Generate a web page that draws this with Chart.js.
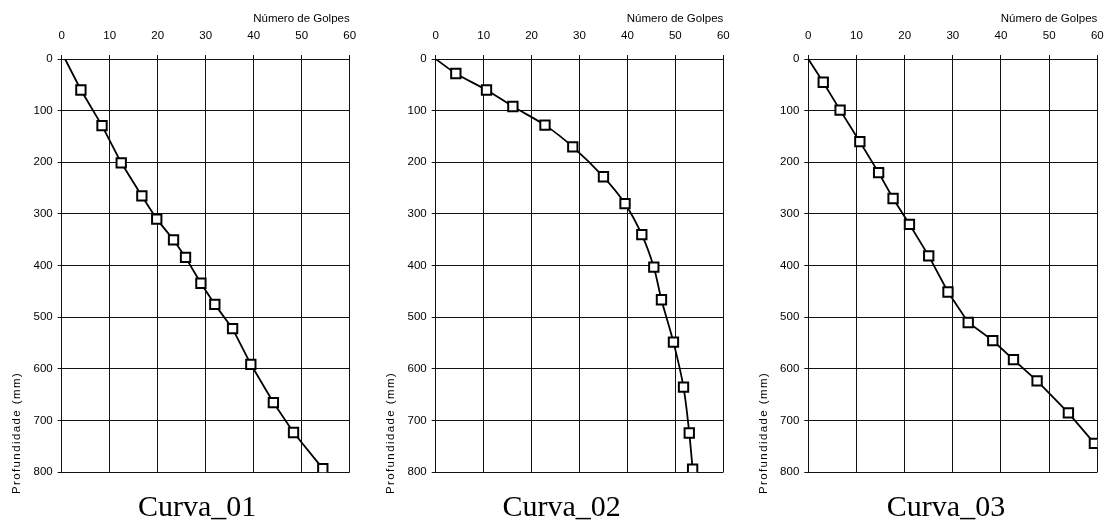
<!DOCTYPE html>
<html>
<head>
  <title>Curvas de penetração</title>
  <script src="https://cdn.jsdelivr.net/npm/chart.js"></script>
  <style>
    body { margin: 0; background: #fff; }
    #wrap { position: relative; width: 1106px; height: 522px; }
    canvas { position: absolute; top: 0; }
  </style>
</head>
<body>
  <div id="wrap">
    <canvas id="c1" width="368" height="522" style="left:0px"></canvas>
    <canvas id="c2" width="369" height="522" style="left:368px"></canvas>
    <canvas id="c3" width="369" height="522" style="left:737px"></canvas>
  </div>
  <script>
    // Número de golpes acumulados e profundidade (mm) para cada curva
    const golpes01 = [0.7, 4, 8.4, 12.4, 16.7, 19.8, 23.3, 25.8, 29.0, 31.9, 35.6, 39.4, 44.1, 48.3, 54.4];
    const prof01   = [0, 60, 129, 201, 265, 310, 350, 384, 434, 475, 522, 591, 665, 723, 793];

    const golpes02 = [0, 4.2, 10.6, 16.1, 22.8, 28.6, 35.0, 39.5, 43.0, 45.5, 47.1, 49.6, 51.7, 52.9, 53.6];
    const prof02   = [0, 28, 60, 92, 128, 170, 228, 280, 340, 403, 466, 548, 635, 724, 794];

    const golpes03 = [0, 3.1, 6.6, 10.7, 14.6, 17.6, 21.0, 25.0, 29.0, 33.2, 38.3, 42.6, 47.5, 54.0, 59.4];
    const prof03   = [0, 45, 99, 160, 220, 270, 320, 381, 451, 510, 545, 582, 623, 685, 744];

    const titulos = ['Curva_01', 'Curva_02', 'Curva_03'];
    const xTicks = [0, 10, 20, 30, 40, 50, 60];
    const yTicks = [0, 100, 200, 300, 400, 500, 600, 700, 800];

    // posição de cada gráfico dentro do seu canvas
    const paineis = [
      { id: 'c1', golpes: golpes01, prof: prof01, padL: 21.7, padR: 18.3, tituloDx: 135.5, tension: 0 },
      { id: 'c2', golpes: golpes02, prof: prof02, padL: 27.7, padR: 13.7, tituloDx: 126, tension: 0.3 },
      { id: 'c3', golpes: golpes03, prof: prof03, padL: 31.3, padR: 8.7, tituloDx: 137.7, tension: 0 }
    ];

    const fonteEixo = { family: '"Liberation Sans", Arial, sans-serif', size: 11.5 };

    // título em baixo e rótulo vertical da profundidade
    const textosPainel = {
      id: 'textosPainel',
      afterDraw(chart, args, opts) {
        const { ctx, chartArea } = chart;
        ctx.save();
        ctx.fillStyle = '#000';
        ctx.font = '11.5px "Liberation Sans", Arial, sans-serif';
        ctx.letterSpacing = '1.4px';
        ctx.translate(chartArea.left - 44.5, 433);
        ctx.rotate(-Math.PI / 2);
        ctx.textAlign = 'center';
        ctx.textBaseline = 'middle';
        ctx.fillText('Profundidade (mm)', 0, 0);
        ctx.restore();

        ctx.save();
        ctx.fillStyle = '#000';
        ctx.font = '30px "Liberation Serif", "Times New Roman", serif';
        ctx.textAlign = 'center';
        ctx.textBaseline = 'alphabetic';
        ctx.fillText(opts.titulo, chartArea.left + opts.dx, 516);
        ctx.restore();
      }
    };

    paineis.forEach((p, i) => {
      const pontos = p.golpes.map((g, k) => ({ x: g, y: p.prof[k] }));
      new Chart(document.getElementById(p.id).getContext('2d'), {
        type: 'line',
        data: {
          datasets: [{
            data: pontos,
            borderColor: '#000',
            borderWidth: 1.8,
            tension: p.tension,
            pointStyle: 'rect',
            pointRadius: ctx => ctx.dataIndex === 0 ? 0 : 6.6,
            pointBackgroundColor: '#fff',
            pointBorderColor: '#000',
            pointBorderWidth: 2
          }]
        },
        options: {
          responsive: false,
          animation: false,
          layout: { padding: { left: p.padL, right: p.padR, top: 0, bottom: 49.7 } },
          plugins: {
            legend: { display: false },
            tooltip: { enabled: false },
            textosPainel: { titulo: titulos[i], dx: p.tituloDx }
          },
          scales: {
            x: {
              type: 'linear',
              position: 'top',
              min: 0,
              max: 60,
              afterBuildTicks: axis => { axis.ticks = xTicks.map(v => ({ value: v })); },
              afterFit: axis => {
                axis.height = 59;
                axis.paddingLeft = 0;
                axis.paddingRight = 0;
              },
              ticks: { color: '#000', font: fonteEixo, padding: 12, maxRotation: 0 },
              grid: { color: '#111', lineWidth: 1, tickLength: 4 },
              border: { color: '#111', width: 1 },
              title: {
                display: true,
                text: 'Número de Golpes',
                align: 'end',
                color: '#000',
                font: fonteEixo,
                padding: { top: 12, bottom: 0 }
              }
            },
            y: {
              type: 'linear',
              reverse: true,
              min: 0,
              max: 800,
              afterBuildTicks: axis => { axis.ticks = yTicks.map(v => ({ value: v })); },
              afterFit: axis => {
                axis.width = 40;
                axis.paddingTop = 0;
                axis.paddingBottom = 0;
              },
              ticks: { color: '#000', font: fonteEixo, padding: 5 },
              grid: { color: '#111', lineWidth: 1, tickLength: 4 },
              border: { color: '#111', width: 1 }
            }
          }
        },
        plugins: [textosPainel]
      });
    });
  </script>
</body>
</html>
